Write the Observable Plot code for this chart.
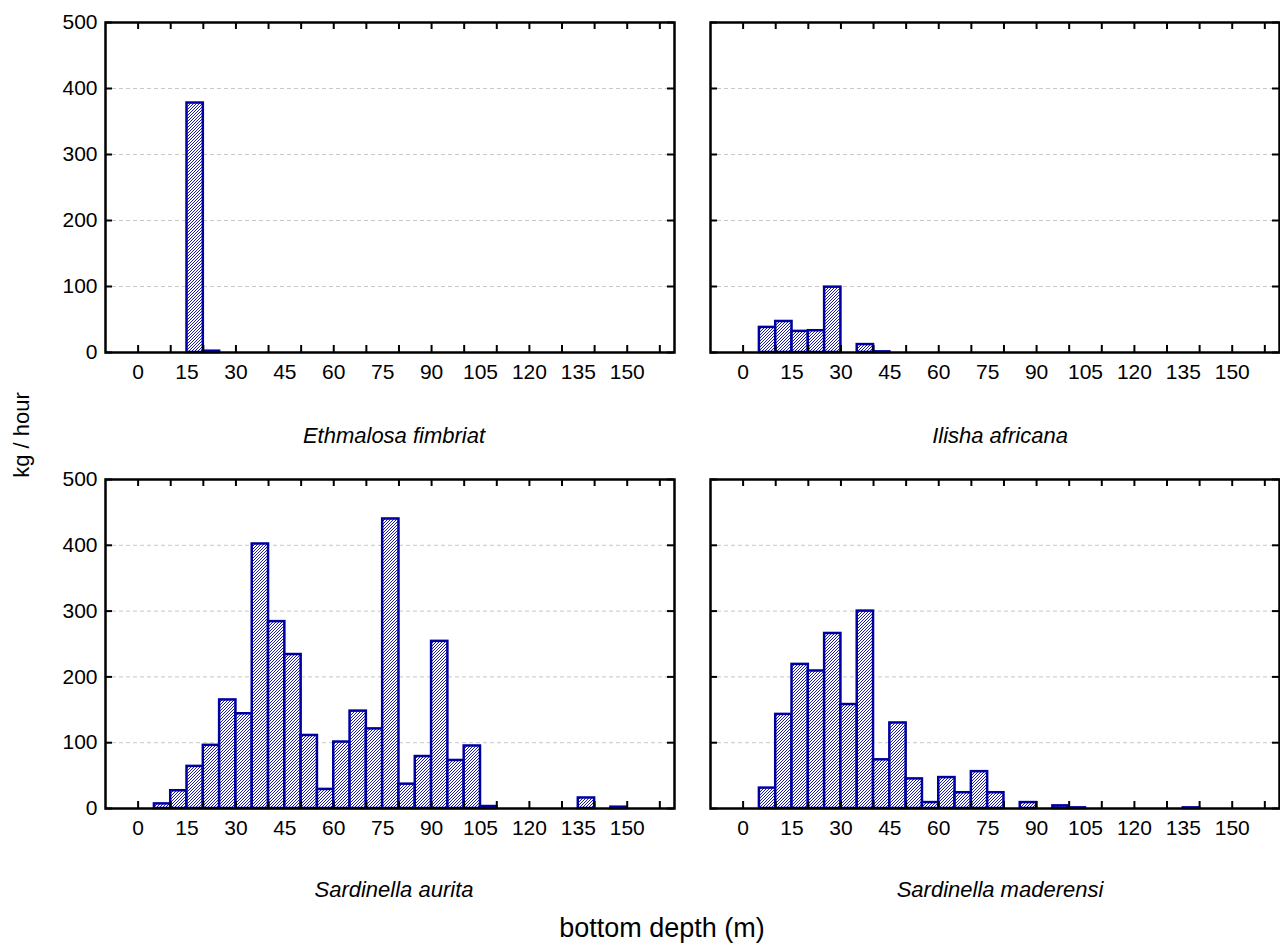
<!DOCTYPE html>
<html><head><meta charset="utf-8">
<script src="https://cdn.jsdelivr.net/npm/d3@7"></script>
<script src="https://cdn.jsdelivr.net/npm/@observablehq/plot@0.6"></script>
<style>
body{margin:0;background:#fff;}
#root{position:relative;width:1280px;height:950px;font-family:"Liberation Sans",Arial,sans-serif;color:#000;background:#fff;overflow:hidden;}
.panel{position:absolute;}
.sp{position:absolute;font-style:italic;font-size:22px;transform:translate(-50%,-50%);white-space:nowrap;}
.lab{position:absolute;white-space:nowrap;}
</style></head><body>
<div id="root">
<svg width="0" height="0" style="position:absolute;left:0;top:0"><defs>
<pattern id="hatch" patternUnits="userSpaceOnUse" width="3" height="3">
<rect width="3" height="3" fill="#fff"/>
<path d="M-1,1 l2,-2 M0,3 l3,-3 M2,4 l2,-2" stroke="#00009c" stroke-width="0.9"/>
</pattern></defs></svg>
</div>
<script>
// bin starts (m), each bin is 5 m wide
const binStart = [0,5,10,15,20,25,30,35,40,45,50,55,60,65,70,75,80,85,90,95,100,105,110,115,120,125,130,135,140,145,150];
const ethmalosa = [0,0,0,378,2,0,0,0,0,0,0,0,0,0,0,0,0,0,0,0,0,0,0,0,0,0,0,0,0,0,0];
const ilisha    = [0,38,47,32,33,99,0,12,1,0,0,0,0,0,0,0,0,0,0,0,0,0,0,0,0,0,0,0,0,0,0];
const aurita    = [0,7,27,64,96,165,144,402,284,234,111,29,101,148,121,440,37,79,254,73,95,3,0,0,0,0,0,16,0,2,0];
const maderensis= [0,31,143,219,209,266,158,300,74,130,45,9,47,24,56,24,0,9,0,4,1,0,0,0,0,0,0,1,0,0,0];
const speciesNames = ["Ethmalosa fimbriat","Ilisha africana","Sardinella aurita","Sardinella maderensi"];
const xLabelVals = [0,15,30,45,60,75,90,105,120,135,150];
const xTickVals = [0,10,20,30,40,50,60,70,80,90,100,110,120,130,140,150,160];
const yTickVals = [0,100,200,300,400,500];
const gridVals = [100,200,300,400];
const xDomain = [-10,164.5];
const yDomain = [0,500];

const navy = "#0000a0";
const root = document.getElementById("root");

function panel(values, cfg) {
  const data = binStart.map((b,i)=>({lo:b, hi:b+5, v:values[i]})).filter(d=>d.v>0);
  const marks = [
    Plot.ruleY(gridVals, {y:d=>d, stroke:"#c8c8c8", strokeDasharray:"4,3", strokeWidth:1}),
    Plot.rectY(data, {x1:"lo", x2:"hi", y:"v", fill:"url(#hatch)", stroke:navy, strokeWidth:2.5}),
    Plot.frame({stroke:"#000", strokeWidth:2.5}),
    Plot.ruleX(xTickVals, {x:d=>d, y1:0, y2:0, insetTop:-7, stroke:"#000", strokeWidth:2}),
    Plot.ruleX(xTickVals, {x:d=>d, y1:500, y2:500, insetBottom:-7, stroke:"#000", strokeWidth:2}),
    Plot.ruleY(yTickVals, {y:d=>d, x1:xDomain[0], x2:xDomain[0], insetRight:-7, stroke:"#000", strokeWidth:2}),
    Plot.ruleY(yTickVals, {y:d=>d, x1:xDomain[1], x2:xDomain[1], insetLeft:-7, stroke:"#000", strokeWidth:2}),
    Plot.axisX({ticks:xLabelVals, tickSize:0, tickPadding:12, label:null, fontSize:21})
  ];
  if (cfg.showY) marks.push(Plot.axisY({ticks:yTickVals, tickSize:0, tickPadding:8, label:null, fontSize:21}));
  const p = Plot.plot({
    width:cfg.w, height:cfg.h,
    marginLeft:cfg.ml, marginRight:cfg.mr, marginTop:cfg.mt, marginBottom:cfg.mb,
    x:{domain:xDomain},
    y:cfg.showY ? {domain:yDomain} : {domain:yDomain, axis:null},
    style:{fontFamily:"Liberation Sans, Arial, sans-serif", fontSize:"21px", color:"#000", background:"transparent", overflow:"visible"},
    marks
  });
  p.classList.add("panel");
  p.style.left = cfg.left+"px";
  p.style.top = cfg.top+"px";
  root.appendChild(p);
}

panel(ethmalosa,  {left:0,   top:0,   w:690, h:460, ml:105, mr:16, mt:22, mb:108, showY:true});
panel(ilisha,     {left:690, top:0,   w:590, h:460, ml:20,  mr:1,  mt:22, mb:108, showY:false});
panel(aurita,     {left:0,   top:460, w:690, h:400, ml:105, mr:16, mt:19, mb:52,  showY:true});
panel(maderensis, {left:690, top:460, w:590, h:400, ml:20,  mr:1,  mt:19, mb:52,  showY:false});

function addText(cls, txt, x, y, extra) {
  const d = document.createElement("div");
  d.className = cls; d.textContent = txt;
  d.style.left = x+"px"; d.style.top = y+"px";
  Object.assign(d.style, extra||{});
  root.appendChild(d);
}
addText("sp", speciesNames[0], 394, 436);
addText("sp", speciesNames[1], 1000, 436);
addText("sp", speciesNames[2], 394, 890);
addText("sp", speciesNames[3], 1000, 890);
addText("lab", "bottom depth (m)", 662, 928, {fontSize:"27px", transform:"translate(-50%,-50%)"});
addText("lab", "kg / hour", 22, 435, {fontSize:"22px", transform:"translate(-50%,-50%) rotate(-90deg)"});
</script>
</body></html>
